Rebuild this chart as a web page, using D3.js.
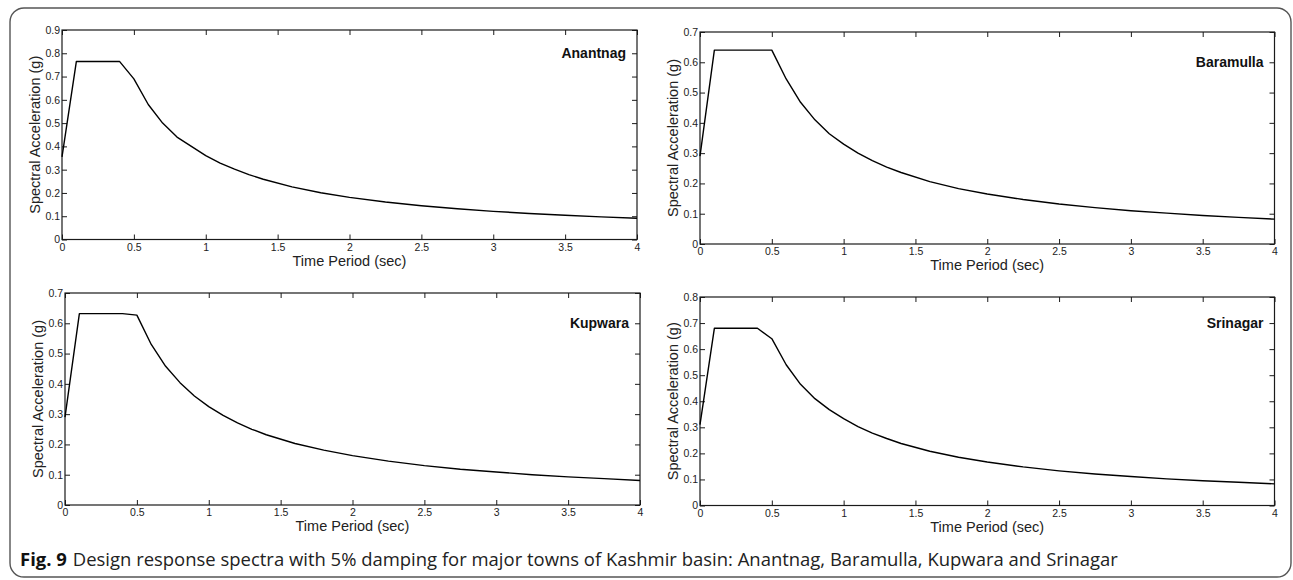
<!DOCTYPE html>
<html>
<head>
<meta charset="utf-8">
<script src="https://cdn.jsdelivr.net/npm/d3@7"></script>
<style>
  html, body { margin: 0; padding: 0; background: #fff; }
  svg { display: block; }
</style>
</head>
<body>
<svg id="chart" width="1293" height="580"></svg>
<script>
// ---- Data ----
const periods   = [0, 0.1, 0.4, 0.5, 0.6, 0.7, 0.8, 0.9, 1.0, 1.1, 1.2, 1.3, 1.4, 1.6, 1.8, 2.0, 2.25, 2.5, 2.75, 3.0, 3.25, 3.5, 3.75, 4.0];
const anantnag  = [0.355, 0.765, 0.765, 0.69, 0.58, 0.50, 0.44, 0.40, 0.36, 0.328, 0.302, 0.279, 0.259, 0.226, 0.201, 0.181, 0.161, 0.145, 0.132, 0.121, 0.112, 0.104, 0.097, 0.091];
const baramulla = [0.29, 0.64, 0.64, 0.64, 0.545, 0.468, 0.41, 0.364, 0.33, 0.300, 0.275, 0.254, 0.236, 0.206, 0.183, 0.165, 0.147, 0.132, 0.120, 0.110, 0.102, 0.094, 0.088, 0.082];
const kupwara   = [0.29, 0.632, 0.632, 0.627, 0.53, 0.458, 0.404, 0.36, 0.325, 0.296, 0.271, 0.250, 0.232, 0.203, 0.181, 0.163, 0.145, 0.130, 0.118, 0.109, 0.100, 0.093, 0.087, 0.081];
const srinagar  = [0.31, 0.68, 0.68, 0.64, 0.54, 0.465, 0.41, 0.368, 0.333, 0.303, 0.278, 0.257, 0.238, 0.208, 0.185, 0.167, 0.148, 0.133, 0.121, 0.111, 0.102, 0.095, 0.089, 0.083];

const towns   = ["Anantnag", "Baramulla", "Kupwara", "Srinagar"];
const series  = [anantnag, baramulla, kupwara, srinagar];
const yMaxes  = [0.9, 0.7, 0.7, 0.8];
const labelAt = [0.8, 0.6, 0.6, 0.7];   // y value where the town label sits
const xTicks  = [0, 0.5, 1, 1.5, 2, 2.5, 3, 3.5, 4];
const xTitle  = "Time Period (sec)";
const yTitle  = "Spectral Acceleration (g)";
const captionBold = "Fig. 9";
const captionText = "Design response spectra with 5% damping for major towns of Kashmir basin: Anantnag, Baramulla, Kupwara and Srinagar";

// ---- Layout (pixel boxes of each panel) ----
const boxes = [
  {l: 62,  r: 637,  t: 30,  b: 239.5},
  {l: 700, r: 1274.5, t: 32,  b: 244},
  {l: 65,  r: 640,  t: 293, b: 505},
  {l: 700, r: 1274.5, t: 297, b: 505.5}
];

const svg = d3.select("#chart");
const ink = "#1a1a1a";
const tickFont = "'Liberation Sans', Arial, Helvetica, sans-serif";

// outer rounded frame
svg.append("rect")
  .attr("x", 10).attr("y", 8)
  .attr("width", 1281).attr("height", 569)
  .attr("rx", 14).attr("ry", 14)
  .attr("fill", "none").attr("stroke", "#555").attr("stroke-width", 1.4);

boxes.forEach((bx, i) => {
  const x = d3.scaleLinear().domain([0, 4]).range([bx.l, bx.r]);
  const y = d3.scaleLinear().domain([0, yMaxes[i]]).range([bx.b, bx.t]);
  const yTicks = d3.range(0, Math.round(yMaxes[i] * 10) + 1).map(k => +(k / 10).toFixed(1));
  const g = svg.append("g");

  const styleAxis = sel => {
    sel.select(".domain").remove();
    sel.selectAll("line").attr("stroke", ink).attr("stroke-width", 1);
    sel.selectAll("text").attr("fill", "#222").style("font-family", tickFont).style("font-size", "10.5px");
  };

  // bottom axis with labels
  g.append("g").attr("transform", `translate(0,${bx.b})`)
    .call(d3.axisBottom(x).tickValues(xTicks).tickSize(-5).tickPadding(4).tickFormat(d3.format("~g")))
    .call(styleAxis);
  // top axis ticks only
  g.append("g").attr("transform", `translate(0,${bx.t})`)
    .call(d3.axisTop(x).tickValues(xTicks).tickSize(-5).tickFormat(""))
    .call(styleAxis);
  // left axis with labels
  g.append("g").attr("transform", `translate(${bx.l},0)`)
    .call(d3.axisLeft(y).tickValues(yTicks).tickSize(-5).tickPadding(2).tickFormat(d3.format("~g")))
    .call(styleAxis);
  // right axis ticks only
  g.append("g").attr("transform", `translate(${bx.r},0)`)
    .call(d3.axisRight(y).tickValues(yTicks).tickSize(-5).tickFormat(""))
    .call(styleAxis);

  // plot box
  g.append("rect")
    .attr("x", bx.l).attr("y", bx.t)
    .attr("width", bx.r - bx.l).attr("height", bx.b - bx.t)
    .attr("fill", "none").attr("stroke", ink).attr("stroke-width", 1.2);

  // spectrum curve
  const pts = periods.map((p, k) => [p, series[i][k]]);
  g.append("path")
    .datum(pts)
    .attr("fill", "none").attr("stroke", "#000").attr("stroke-width", 1.4)
    .attr("stroke-linejoin", "round")
    .attr("d", d3.line().x(d => x(d[0])).y(d => y(d[1])));

  // town label
  g.append("text")
    .attr("x", bx.r - 11).attr("y", y(labelAt[i]))
    .attr("dy", "0.35em")
    .attr("text-anchor", "end")
    .style("font-family", tickFont).style("font-size", "14px").style("font-weight", "bold")
    .attr("fill", "#111")
    .text(towns[i]);

  // axis titles
  g.append("text")
    .attr("x", (bx.l + bx.r) / 2).attr("y", bx.b + 26)
    .attr("text-anchor", "middle")
    .style("font-family", tickFont).style("font-size", "14.5px")
    .attr("fill", "#222")
    .text(xTitle);
  g.append("text")
    .attr("transform", `translate(${bx.l - 22},${(bx.t + bx.b) / 2}) rotate(-90)`)
    .attr("text-anchor", "middle")
    .style("font-family", tickFont).style("font-size", "14.5px")
    .attr("fill", "#222")
    .text(yTitle);
});

// caption
const cap = svg.append("text")
  .attr("x", 20).attr("y", 566)
  .style("font-family", "'Open Sans', 'Noto Sans', sans-serif")
  .style("font-size", "16px")
  .attr("fill", "#222");
cap.append("tspan").style("font-weight", "bold").attr("fill", "#111").text(captionBold);
cap.append("tspan").attr("dx", 6).text(captionText);
// fit caption to the reference width
const targetW = 1093;
const w = cap.node().getComputedTextLength();
cap.style("font-size", (16 * targetW / w).toFixed(2) + "px");
</script>
</body>
</html>
